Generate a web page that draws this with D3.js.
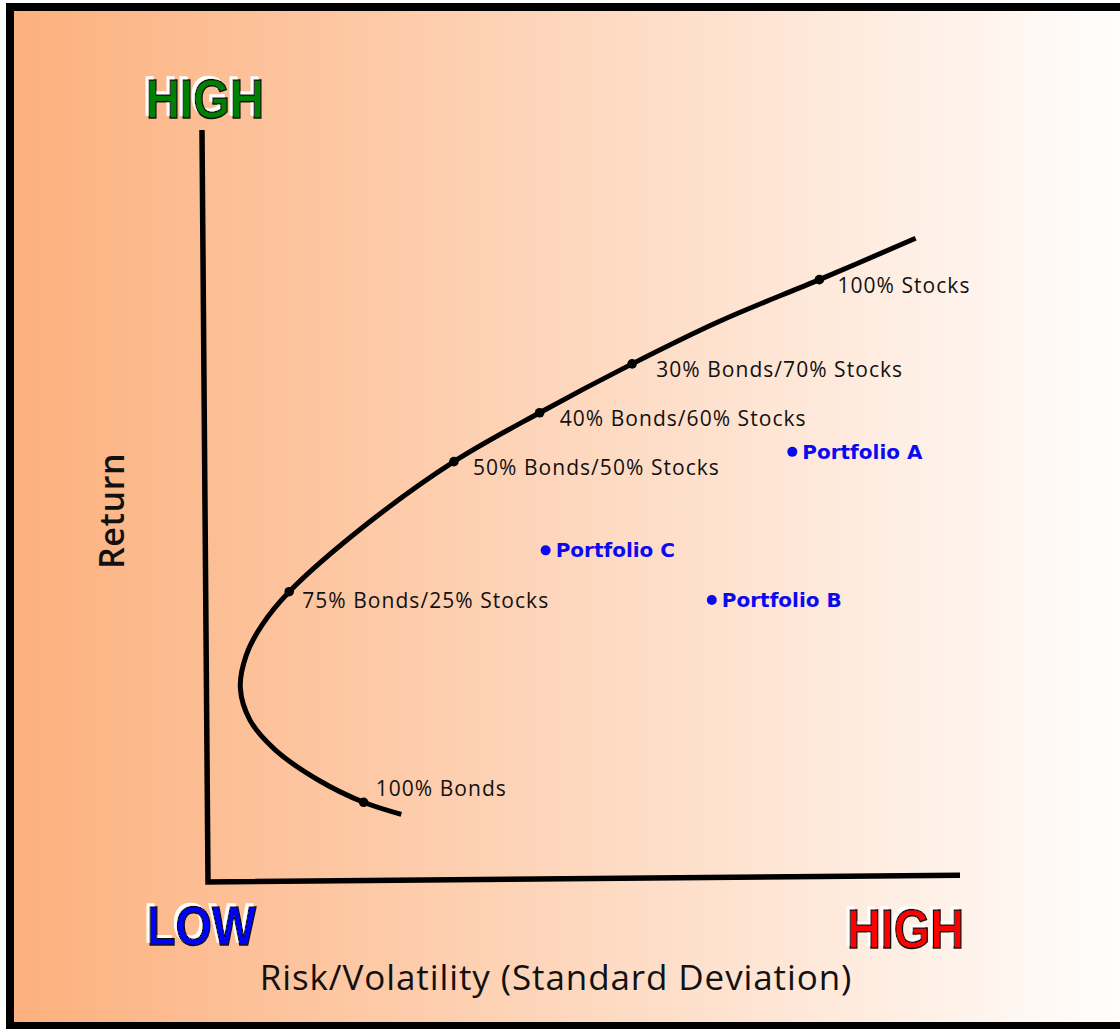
<!DOCTYPE html>
<html lang="en">
<head>
    <meta charset="UTF-8">
    <title>Efficient Frontier</title>
    <script src="https://cdn.jsdelivr.net/npm/d3@7"></script>
    <style>
        body { margin: 0; background: #fff; }
        svg { display: block; }
    </style>
</head>
<body>
    <div id="chart-space"></div>

    <script>
        // frontier curve (risk, return on a 0-100 scale)
        var curveRisk   = [25.7, 20.7, 14.6, 8.9, 5.6, 4.3, 5.1, 7.2, 10.8, 21.0, 32.7, 44.1, 56.4, 68.1, 81.3, 94.1];
        var curveReturn = [9.0, 10.6, 13.6, 17.6, 21.5, 25.8, 30.2, 34.2, 38.6, 47.5, 55.9, 62.4, 68.9, 74.6, 80.1, 85.6];

        // marked allocations on the frontier
        var mixNames  = ["100% Bonds", "75% Bonds/25% Stocks", "50% Bonds/50% Stocks", "40% Bonds/60% Stocks", "30% Bonds/70% Stocks", "100% Stocks"];
        var mixRisk   = [20.7, 10.8, 32.7, 44.1, 56.4, 81.3];
        var mixReturn = [10.6, 38.6, 55.9, 62.4, 68.9, 80.1];

        // off-frontier portfolios
        var portNames  = ["Portfolio A", "Portfolio B", "Portfolio C"];
        var portRisk   = [77.7, 67.0, 44.9];
        var portReturn = [57.2, 37.5, 44.1];

        var lowLabel = "LOW";
        var highLabel = "HIGH";
        var xTitle = "Risk/Volatility (Standard Deviation)";
        var yTitle = "Return";

        var width = 1120;
        var height = 1029;

        // label offsets (px) for the frontier mixes
        var mixDx = [12, 13, 19, 20, 24, 18];
        var mixDy = [-6, 16, 13, 13, 13, 13];

        var svg = d3.select("#chart-space")
            .append("svg")
            .attr("width", width)
            .attr("height", height);

        var defs = svg.append("defs");
        var grad = defs.append("linearGradient")
            .attr("id", "bg")
            .attr("x1", "0%").attr("x2", "100%")
            .attr("y1", "0%").attr("y2", "0%");
        grad.append("stop").attr("offset", "0%").attr("stop-color", "#fcb07d");
        grad.append("stop").attr("offset", "100%").attr("stop-color", "#ffffff");

        // white offset copy behind the big words
        var glow = defs.append("filter")
            .attr("id", "whiteDrop")
            .attr("x", "-10%").attr("y", "-20%")
            .attr("width", "120%").attr("height", "140%");
        glow.append("feOffset").attr("in", "SourceAlpha").attr("dx", -3).attr("dy", -3).attr("result", "off");
        glow.append("feFlood").attr("flood-color", "#fff").attr("result", "white");
        glow.append("feComposite").attr("in", "white").attr("in2", "off").attr("operator", "in").attr("result", "shadow");
        var merge = glow.append("feMerge");
        merge.append("feMergeNode").attr("in", "shadow");
        merge.append("feMergeNode").attr("in", "SourceGraphic");

        svg.append("rect")
            .attr("x", 10).attr("y", 7)
            .attr("width", 1130).attr("height", 1019)
            .attr("fill", "url(#bg)")
            .attr("stroke", "#000")
            .attr("stroke-width", 8);

        var xScale = d3.scaleLinear().domain([0, 100]).range([208, 960]);
        var yScale = d3.scaleLinear().domain([0, 100]).range([882, 130]);

        // axes (hand drawn look: slightly tilted)
        var axisLine = d3.line()
            .x(function(d) { return xScale(d[0]); })
            .y(function(d) { return yScale(d[1]); });

        svg.append("path")
            .attr("d", axisLine([[-0.8, 100], [0, 0], [100, 0.9]]))
            .attr("fill", "none")
            .attr("stroke", "#000")
            .attr("stroke-width", 5.5);

        // frontier
        var frontier = d3.line()
            .x(function(d, i) { return xScale(curveRisk[i]); })
            .y(function(d, i) { return yScale(curveReturn[i]); })
            .curve(d3.curveCatmullRom.alpha(0.5));

        svg.append("path")
            .attr("d", frontier(curveRisk))
            .attr("fill", "none")
            .attr("stroke", "#000")
            .attr("stroke-width", 5);

        svg.selectAll("circle.mix")
            .data(mixNames)
            .join("circle")
            .attr("class", "mix")
            .attr("cx", function(d, i) { return xScale(mixRisk[i]); })
            .attr("cy", function(d, i) { return yScale(mixReturn[i]); })
            .attr("r", 4.8)
            .attr("fill", "#000");

        svg.selectAll("text.mix")
            .data(mixNames)
            .join("text")
            .attr("class", "mix")
            .attr("x", function(d, i) { return xScale(mixRisk[i]) + mixDx[i]; })
            .attr("y", function(d, i) { return yScale(mixReturn[i]) + mixDy[i]; })
            .attr("font-family", "'Open Sans', sans-serif")
            .attr("font-size", 21)
            .attr("letter-spacing", 1.05)
            .attr("fill", "#111")
            .text(function(d) { return d; });

        // portfolios
        svg.selectAll("circle.port")
            .data(portNames)
            .join("circle")
            .attr("class", "port")
            .attr("cx", function(d, i) { return xScale(portRisk[i]); })
            .attr("cy", function(d, i) { return yScale(portReturn[i]); })
            .attr("r", 5)
            .attr("fill", "#0a0af0");

        svg.selectAll("text.port")
            .data(portNames)
            .join("text")
            .attr("class", "port")
            .attr("x", function(d, i) { return xScale(portRisk[i]) + 10; })
            .attr("y", function(d, i) { return yScale(portReturn[i]) + 7; })
            .attr("font-family", "'DejaVu Sans', sans-serif")
            .attr("font-weight", "bold")
            .attr("font-size", 20)
            .attr("fill", "#0a0af0")
            .text(function(d) { return d; });

        // big HIGH / LOW words with white drop and dark outline
        var bigWords = [
            {t: highLabel, x: 146, y: 118, w: 118, c: "#008000"},
            {t: lowLabel, x: 147, y: 945, w: 109, c: "#0000ff"},
            {t: highLabel, x: 847, y: 948, w: 117, c: "#ff0000"}
        ];
        svg.selectAll("text.big")
            .data(bigWords)
            .join("text")
            .attr("class", "big")
            .attr("x", function(d) { return d.x; })
            .attr("y", function(d) { return d.y; })
            .attr("textLength", function(d) { return d.w; })
            .attr("lengthAdjust", "spacingAndGlyphs")
            .attr("font-family", "'Liberation Sans', Arial, sans-serif")
            .attr("font-weight", "bold")
            .attr("font-size", 56)
            .attr("fill", function(d) { return d.c; })
            .attr("stroke", "#111")
            .attr("stroke-width", 1.5)
            .attr("filter", "url(#whiteDrop)")
            .text(function(d) { return d.t; });

        // axis titles
        svg.append("text")
            .attr("x", 556).attr("y", 990)
            .attr("text-anchor", "middle")
            .attr("font-family", "'Open Sans', sans-serif")
            .attr("font-size", 35)
            .attr("letter-spacing", 0.9)
            .attr("fill", "#111")
            .text(xTitle);

        svg.append("text")
            .attr("transform", "translate(124,511) rotate(-90)")
            .attr("text-anchor", "middle")
            .attr("font-family", "'Open Sans', sans-serif")
            .attr("font-weight", 600)
            .attr("font-size", 34)
            .attr("letter-spacing", 0.6)
            .attr("fill", "#111")
            .text(yTitle);
    </script>
</body>
</html>
